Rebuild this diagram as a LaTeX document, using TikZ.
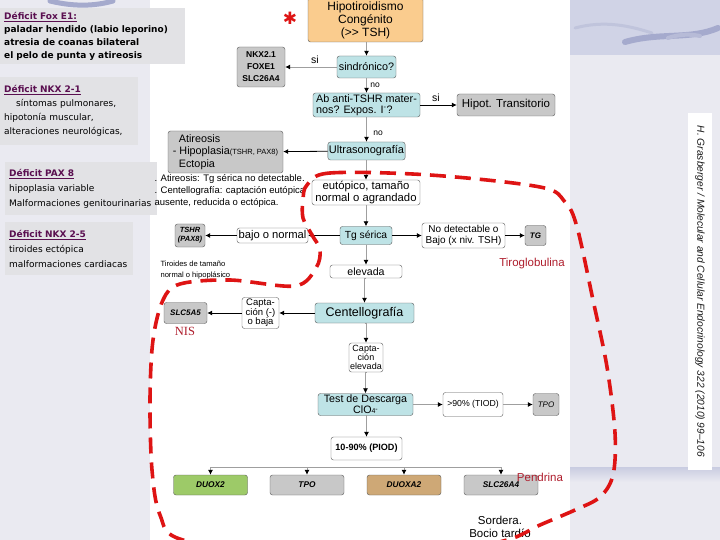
\documentclass[tikz,border=0pt]{standalone}
\usepackage{fontspec}
\setmainfont{Liberation Sans}
\newfontfamily\verd{DejaVu Sans}
\newfontfamily\serifnis{Liberation Serif}
\usetikzlibrary{calc,arrows,arrows.meta}
\definecolor{orangebox}{RGB}{250,204,142}
\definecolor{cyanbox}{RGB}{190,227,230}
\definecolor{graybox}{RGB}{200,200,200}
\definecolor{greenbox}{RGB}{157,202,104}
\definecolor{tanbox}{RGB}{206,168,118}
\definecolor{darkred}{RGB}{175,30,45}
\definecolor{loopred}{RGB}{222,20,20}
\definecolor{titlepurple}{RGB}{90,15,80}
\definecolor{bgpage}{RGB}{234,234,241}
\definecolor{panelgray}{RGB}{226,226,229}
\definecolor{bandblue}{RGB}{208,211,230}
\definecolor{swoosh}{RGB}{165,170,205}
\newcommand{\fsz}[2]{\fontsize{#1}{#2}\selectfont}

\begin{document}
\begin{tikzpicture}[x=1pt,y=-1pt,
    box/.style={draw=gray!70!black,rounded corners=2.5pt,align=center,inner sep=1pt,font=\fsz{10.8}{12}},
    sz/.style 2 args={minimum width=#1,minimum height=#2},
    gene/.style={box,fill=graybox,font=\fsz{8}{9}\bfseries\itshape},
    panel/.style={fill=panelgray,anchor=north west,align=left,inner xsep=4pt,inner ysep=2pt,font=\verd\fsz{9}{13.5}},
    varr/.style={draw=gray!75,line width=0.8pt,-{Latex[color=black,length=5pt,width=5pt]}},
    barr/.style={draw=black,line width=0.8pt,-{Latex[length=5pt,width=5pt]}},
    lbl/.style={font=\fsz{8.5}{9}},
    note/.style={font=\fsz{9.5}{12},align=left},
    redtxt/.style={text=darkred,font=\fsz{11.5}{12}},
    redloop/.style={draw=loopred,line width=3.6pt,dash pattern=on 16pt off 9pt}]
  \useasboundingbox (0,0) rectangle (720,540);

  % background
  \fill[bgpage] (0,0) rectangle (720,540);
  \fill[white] (150,0) rectangle (570,540);
  \fill[bandblue] (570,0) rectangle (720,55);
  \draw[swoosh,line width=5pt,line cap=round] (50,1) .. controls (75,7) and (95,6) .. (113,1);
  \draw[swoosh!70,line width=3pt,line cap=round] (575,28) .. controls (605,20) and (630,26) .. (652,33);
  \draw[swoosh,line width=6pt,line cap=round] (625,42) .. controls (660,32) and (690,40) .. (718,28);
  \draw[swoosh!80,line width=4pt,line cap=round] (668,38) .. controls (680,34) and (690,34) .. (700,36);
  \shade[top color=swoosh!60,bottom color=bgpage] (570,467) rectangle (720,482);

  % left panels
  \node[panel,text width=177pt,minimum height=56,font=\verd\fsz{9}{13}] (foxe1) at (0,8)
    {{\color{titlepurple}\bfseries\underline{Déficit Fox E1:}}\\
     \bfseries paladar hendido (labio leporino)\\
     \bfseries atresia de coanas bilateral\\
     \bfseries el pelo de punta y atireosis};
  \node[panel,text width=130pt,minimum height=68,font=\verd\fsz{9}{14}] (nkx21) at (0,77)
    {{\color{titlepurple}\bfseries\underline{Déficit NKX 2-1}}\\
     \hspace*{12pt}síntomas pulmonares,\\
     hipotonía muscular,\\
     alteraciones neurológicas,};
  \node[panel,text width=144pt,minimum height=53,font=\verd\fsz{9}{15}] (pax8) at (5,162)
    {{\color{titlepurple}\bfseries\underline{Déficit PAX 8}}\\
     hipoplasia variable\\
     Malformaciones genitourinarias};
  \node[panel,text width=120pt,minimum height=53,font=\verd\fsz{9}{15}] (nkx25) at (5,222)
    {{\color{titlepurple}\bfseries\underline{Déficit NKX 2-5}}\\
     tiroides ectópica\\
     malformaciones cardiacas};

  % flowchart
  \node[text=loopred,font=\verd\fsz{17}{17}] (star) at (290,18) {✱};
  \node[box,fill=orangebox,sz={115}{44},font=\fsz{12}{13}] (hipo) at (365.5,20) {Hipotiroidismo\\Congénito\\(>\kern0pt> TSH)};
  \node[box,fill=cyanbox,sz={59}{22}] (sind) at (366.5,67) {sindrónico?};
  \node[box,fill=graybox,sz={48}{40},font=\fsz{8.5}{12}\bfseries] (nkx) at (261,67) {NKX2.1\\FOXE1\\SLC26A4};
  \node[box,fill=cyanbox,sz={107}{24},align=left,font=\fsz{10.8}{11.5}] (ab) at (366.5,105) {Ab anti-TSHR mater-\\nos? Expos. I\textsuperscript{-}?};
  \node[box,fill=graybox,sz={98}{22},font=\fsz{11.5}{12}] (hipot) at (506,105) {Hipot. Transitorio};
  \node[box,fill=cyanbox,sz={77}{18},font=\fsz{11}{12}] (ultra) at (366.5,151) {Ultrasonografía};
  \node[box,fill=graybox,sz={115}{42},align=left,font=\fsz{10.8}{12.5}] (atir) at (225.5,152)
    {\hspace*{6pt}Atireosis\\- Hipoplasia{\fsz{7.5}{9}(TSHR, PAX8)}\\\hspace*{6pt}Ectopia};
  \node[box,fill=white,sz={108}{25},font=\fsz{11.3}{11.5}] (eutop) at (366,192.5) {eutópico, tamaño\\normal o agrandado};
  \node[box,fill=cyanbox,sz={52}{18},font=\fsz{10.3}{11}] (tg) at (366,235.5) {Tg sérica};
  \node[box,fill=white,sz={71}{15},font=\fsz{11.2}{12}] (bajo) at (272.5,235.5) {bajo o normal};
  \node[gene,sz={30}{23},font=\fsz{7.5}{9}\bfseries\itshape] (tshr) at (190,235.5) {TSHR\\(PAX8)};
  \node[box,fill=white,sz={83}{25},font=\fsz{10}{11}] (nodet) at (463.5,235.5) {No detectable o\\Bajo (x niv. TSH)};
  \node[gene,sz={21}{20}] (tgb) at (535.5,235.5) {TG};
  \node[box,fill=white,sz={72}{13},font=\fsz{10.6}{11}] (elev) at (366,271.5) {elevada};
  \node[box,fill=cyanbox,sz={99}{20},font=\fsz{12.5}{13}] (cent) at (364.5,313) {Centellografía};
  \node[box,fill=white,sz={37}{31},font=\fsz{9.5}{9.5}] (capt) at (260.5,313) {Capta-\\ción (-)\\o baja};
  \node[gene,sz={43}{21}] (slc5) at (185.5,313) {SLC5A5};
  \node[box,fill=white,sz={34}{29},font=\fsz{9}{9}] (captel) at (366,357.5) {Capta-\\ción\\elevada};
  \node[box,fill=cyanbox,sz={95}{22},font=\fsz{10.7}{11}] (test) at (365.5,404.5) {Test de Descarga\\ClO{\fsz{7}{7}4}\raisebox{2pt}{\fsz{7}{7}-}};
  \node[box,fill=white,sz={60}{24},font=\fsz{8.7}{9}] (tiod) at (473,404.5) {>90\% (TIOD)};
  \node[gene,sz={26}{22},font=\fsz{8}{9}\itshape] (tpo1) at (546,404.5) {TPO};
  \node[box,fill=white,sz={71}{23},font=\fsz{9.1}{10}\bfseries] (piod) at (366.5,448.5) {10-90\% (PIOD)};

  \foreach \a/\b in {hipo/sind,sind/ab,ab/ultra,ultra/eutop,eutop/tg,tg/elev,elev/cent,cent/captel,captel/test,test/piod} {
    \draw[varr] (\a.south) -- (\a.south -| \b.north) -- (\b.north);
  }
  \draw[varr] (sind.west) -- (nkx.east);
  \foreach \a/\b in {ab/hipot,ultra/atir,tg/bajo,bajo/tshr,tg/nodet,nodet/tgb,cent/capt,capt/slc5} {
    \draw[barr] (\a) -- (\b);
  }
  \foreach \a/\b in {test/tiod,tiod/tpo1} {
    \draw[varr] (\a) -- (\b);
  }
  \foreach \n/\x/\c/\t in {duox2/210.5/greenbox/DUOX2,tpo2/307/graybox/TPO,duoxa2/404/tanbox/DUOXA2,slc26/501/graybox/SLC26A4} {
    \node[box,fill=\c,sz={74}{20},font=\fsz{8.3}{9}\bfseries\itshape] (\n) at (\x,485) {\t};
    \draw[varr] ($(piod.south)+(0,7)$) -| (\n.north);
  }

  % labels
  \node[font=\fsz{10.5}{11}] (si1) at (315,60) {si};
  \node[lbl] (no1) at (375,85) {no};
  \node[font=\fsz{10.5}{11}] (si2) at (436,98) {si};
  \node[lbl] (no2) at (378,133) {no};
  \node[note,anchor=west] (atnote) at (151,190.5)
    {. Atireosis: Tg sérica no detectable.\\. Centellografía: captación eutópica\\ausente, reducida o ectópica.};
  \node[note,anchor=west,font=\fsz{7.6}{11}] (tiroides) at (157,270) {Tiroides de tamaño\\normal o hipoplásico};
  \node[redtxt] (tiroglob) at (532,263.5) {Tiroglobulina};
  \node[redtxt,font=\serifnis\fsz{12.5}{12}] (nis) at (185,331) {NIS};
  \node[redtxt] (pendrina) at (540,477) {Pendrina};
  \node[font=\fsz{11.5}{13},align=center] (sordera) at (500,527) {Sordera.\\Bocio tardío};

  \node[rotate=-90,fill=white,sz={357}{24},text=gray!20!black,font=\itshape\fsz{10.2}{10}] (cite) at (700,291.5)
    {H. Grasberger / Molecular and Cellular Endocrinology 322 (2010) 99--106};

  % red loop
  \draw[redloop] plot[smooth cycle,tension=0.55] coordinates {
    (307,185) (330,173) (430,175) (540,187) (565,202) (577,227) (593,300) (607,367)
    (615,433) (613,475) (600,497) (575,510) (540,525) (507,540) (440,552) (300,556)
    (183,540) (160,515) (152,470) (150,400) (153,340) (163,300) (180,284) (230,280)
    (295,286) (316,268) (320,250) (312,235) (303,218) (303,200)};
\end{tikzpicture}
\end{document}
